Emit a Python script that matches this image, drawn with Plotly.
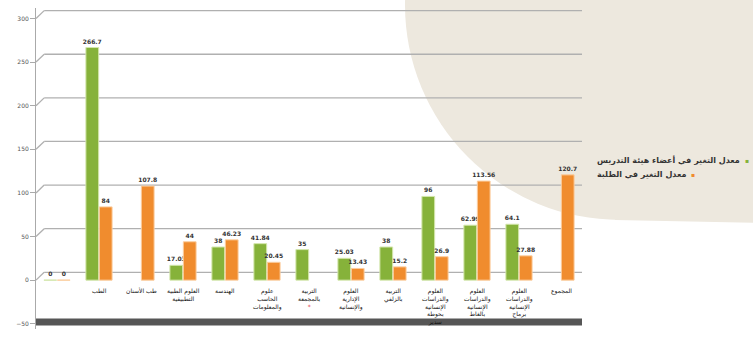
import plotly.graph_objects as go

# ---- data ----
categories = ["", "الطب", "طب الأسنان", "العلوم الطبية<br>التطبيقية", "الهندسة",
              "علوم<br>الحاسب<br>والمعلومات", "التربية<br>بالمجمعة<br><span style='color:#e03030'>*</span>",
              "العلوم<br>الإدارية<br>والإنسانية", "التربية<br>بالزلفي",
              "العلوم<br>والدراسات<br>الإنسانية<br>بحوطة<br>سدير",
              "العلوم<br>والدراسات<br>الإنسانية<br>بالغاط",
              "العلوم<br>والدراسات<br>الإنسانية<br>برماح", "المجموع"]
faculty_change = [0, 266.7, None, 17.03, 38, 41.84, 35.00, 25.03, 38, 96, 62.99, 64.1, None]
student_change = [0, 84, 107.8, 44, 46.23, 20.45, None, 13.43, 15.2, 26.9, 113.56, 27.88, 120.7]
y_ticks = [-50, 0, 50, 100, 150, 200, 250, 300]
series_names = ["معدل التغير في أعضاء هيئة التدريس", "معدل التغير في الطلبة"]

GREEN = "#86b23a"
ORANGE = "#f08c2e"
FONT = "DejaVu Sans"

x_pos = list(range(len(categories)))

fig = go.Figure()
fig.add_trace(go.Bar(x=x_pos, y=faculty_change, name=series_names[0],
                     marker=dict(color=GREEN, line=dict(color="#d3e6ab", width=1)),
                     texttemplate="<b>%{y}</b>", textposition="outside", constraintext="none",
                     textfont=dict(size=6, color="#333", family=FONT), cliponaxis=False,
                     showlegend=False))
fig.add_trace(go.Bar(x=x_pos, y=student_change, name=series_names[1],
                     marker=dict(color=ORANGE, line=dict(color="#fbcd9f", width=1)),
                     texttemplate="<b>%{y}</b>", textposition="outside", constraintext="none",
                     textfont=dict(size=6, color="#333", family=FONT), cliponaxis=False,
                     showlegend=False))

W, H = 753, 338
L, R, T, B = 36, 171, 8, 9
pw, ph = W - L - R, H - T - B


def px(xp):
    return (xp - L) / pw


def py(yp):
    return (H - B - yp) / ph


shapes = []
# decorative beige background shape
beige = "#ede8de"
shapes.append(dict(type="circle", xref="paper", yref="paper",
                   x0=px(405), x1=px(835), y0=py(220), y1=py(-210),
                   fillcolor=beige, line=dict(width=0), layer="below"))
shapes.append(dict(type="path", xref="paper", yref="paper",
                   path=f"M {px(615)},{py(220)} L {px(760)},{py(223)} L {px(760)},{py(-10)} L {px(615)},{py(-10)} Z",
                   fillcolor=beige, line=dict(width=0), layer="below"))

# 3D-style gridlines (back wall offset)
depth = 9
for v in y_ticks:
    if v == y_ticks[0]:
        continue
    shapes.append(dict(type="line", xref="paper", yref="y", x0=0, x1=0.015, y0=v, y1=v + depth,
                       line=dict(color="#b0b0b0", width=1.3), layer="below"))
    shapes.append(dict(type="line", xref="paper", yref="y", x0=0.015, x1=1.0, y0=v + depth, y1=v + depth,
                       line=dict(color="#b0b0b0", width=1.3), layer="below"))
# floor at the minimum of the axis
shapes.append(dict(type="rect", xref="paper", yref="y", x0=0, x1=1.0,
                   y0=y_ticks[0] - 2, y1=y_ticks[0] + 6,
                   fillcolor="#565656", line=dict(width=0), layer="below"))

annotations = []
for xi, lab in zip(x_pos, categories):
    if not lab:
        continue
    annotations.append(dict(x=xi, y=0, xref="x", yref="y", text=lab, showarrow=False,
                            yanchor="top", xanchor="center", yshift=-5,
                            font=dict(size=6, color="#111", family=FONT)))

# legend as text with coloured keys placed after the text
legend_right = [742, 688]
for i, (name, col) in enumerate(zip(series_names, [GREEN, ORANGE])):
    ypos = py(160 + 15 * i)
    annotations.append(dict(x=px(legend_right[i]), y=ypos, xref="paper", yref="paper",
                            text=f"<b>{name}</b>", showarrow=False,
                            xanchor="right", yanchor="middle",
                            font=dict(size=8, color="#333", family=FONT)))
    annotations.append(dict(x=px(legend_right[i] + 1), y=ypos, xref="paper", yref="paper",
                            text="▪", showarrow=False, xanchor="left", yanchor="middle",
                            font=dict(size=6, color=col, family=FONT)))

fig.update_layout(
    width=W, height=H,
    margin=dict(l=L, r=R, t=T, b=B),
    paper_bgcolor="white", plot_bgcolor="rgba(0,0,0,0)",
    barmode="group", bargap=0.36, bargroupgap=0.05,
    shapes=shapes, annotations=annotations,
    xaxis=dict(range=[-0.5, len(categories) - 0.5], showticklabels=False, showgrid=False,
               zeroline=False, showline=False, ticks=""),
    yaxis=dict(range=[-56, 312], tickvals=y_ticks, showgrid=False, zeroline=False,
               showline=True, linecolor="#aaaaaa", linewidth=1,
               ticks="outside", ticklen=5, tickcolor="#aaaaaa",
               tickfont=dict(size=6, color="#555", family=FONT)),
    font=dict(family=FONT),
)

fig.write_html("out.html", config={"displayModeBar": False},
               post_script="document.body.style.margin='0';")
